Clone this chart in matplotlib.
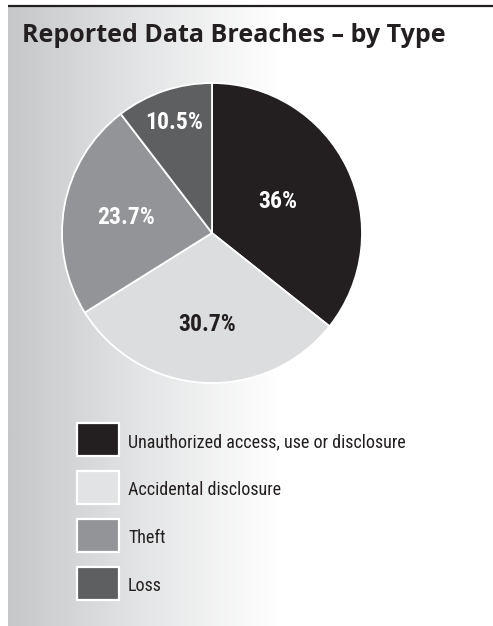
import numpy as np
import matplotlib.pyplot as plt
from matplotlib import font_manager
from matplotlib.patches import Rectangle
from matplotlib.colors import LinearSegmentedColormap

# breach categories and their shares (%)
categories = [
    "Unauthorized access, use or disclosure",
    "Accidental disclosure",
    "Theft",
    "Loss",
]
shares = [36, 30.7, 23.7, 10.5]
share_labels = ["36%", "30.7%", "23.7%", "10.5%"]

wedge_colors = ["#231f20", "#dcddde", "#929497", "#5e5f61"]
swatch_colors = ["#231f20", "#e2e3e4", "#929497", "#5e5f61"]
label_colors = ["white", "#231f20", "white", "white"]
label_radius = [0.49, 0.61, 0.58, 0.78]

W, H = 493, 626

# prefer a condensed face for the labels if one is around
installed = {f.name for f in font_manager.fontManager.ttflist}
narrow = "DejaVu Sans"
for cand in ["Roboto Condensed", "Open Sans Condensed", "Liberation Sans Narrow",
             "DejaVu Sans Condensed", "Noto Sans Condensed"]:
    if cand in installed:
        narrow = cand
        break

fig = plt.figure(figsize=(W / 100, H / 100), dpi=100)
fig.patch.set_facecolor("white")

# background panel in pixel coordinates
bg = fig.add_axes([0, 0, 1, 1])
bg.set_xlim(0, W)
bg.set_ylim(H, 0)
bg.axis("off")

fade = LinearSegmentedColormap.from_list("fade", ["#c6c7c9", "#e4e5e6", "#ffffff"])
grad = np.linspace(0, 1, 400)[None, :]
bg.imshow(grad, cmap=fade, extent=[8, 280, H, 7], aspect="auto", zorder=0)
bg.add_patch(Rectangle((280, 7), W - 280, H - 7, color="white", zorder=0))
bg.plot([8, W], [5.5, 5.5], color="#231f20", lw=1.6, solid_capstyle="butt")

bg.text(22, 42, "Reported Data Breaches \u2013 by Type", fontsize=18,
        fontweight="bold", family="Open Sans", color="#231f20", va="baseline")

# pie
ax = fig.add_axes([62 / W, 1 - 383 / H, 300 / W, 300 / H])
wedges, _ = ax.pie(
    shares,
    colors=wedge_colors,
    startangle=90,
    counterclock=False,
    wedgeprops=dict(edgecolor="white", linewidth=1.3),
)
ax.set_xlim(-1.0, 1.0)
ax.set_ylim(-1.0, 1.0)

pct_size = 17 if narrow != "DejaVu Sans" else 13.5
for w, txt, col, r in zip(wedges, share_labels, label_colors, label_radius):
    mid = np.deg2rad((w.theta1 + w.theta2) / 2)
    ax.text(r * np.cos(mid), r * np.sin(mid), txt, ha="center", va="center",
            fontsize=pct_size, fontweight="bold", family=narrow, color=col)

# legend
leg_size = 13 if narrow != "DejaVu Sans" else 10.2
for i, (name, col) in enumerate(zip(categories, swatch_colors)):
    top = 423 + 48 * i
    bg.add_patch(Rectangle((77, top), 42, 33, facecolor=col,
                           edgecolor="white", lw=1.6, zorder=2))
    bg.text(128, top + 17, name, fontsize=leg_size, family=narrow,
            color="#231f20", va="center_baseline")

fig.savefig("out.png", dpi=100)
